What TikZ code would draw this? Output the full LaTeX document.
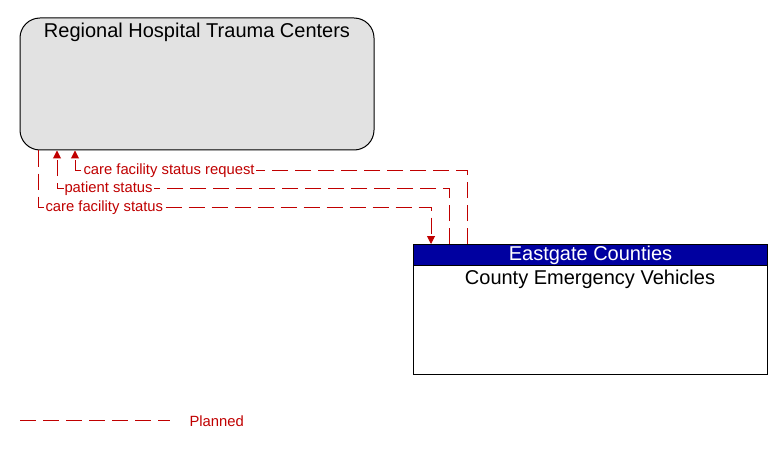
\documentclass[tikz,border=0pt]{standalone}
\usepackage{fontspec}
\setmainfont{Liberation Sans}
\usetikzlibrary{arrows.meta}
\definecolor{flowred}{RGB}{192,0,0}
\definecolor{headblue}{RGB}{0,0,160}
\definecolor{boxgray}{RGB}{226,226,226}

\begin{document}
\begin{tikzpicture}[x=1pt,y=-1pt, line width=1pt,
  every node/.style={inner sep=0pt},
  bigtext/.style={font=\fontsize{20}{22}\selectfont},
  flowtext/.style={font=\fontsize{14.8}{17}\selectfont, text=flowred, fill=white, inner xsep=1pt, inner ysep=1pt, anchor=west},
  planned/.style={draw=flowred, dash pattern=on 16pt off 7pt},
  flow/.style={planned, -{Triangle[length=8pt,width=8pt]}}]
   \useasboundingbox (0,0) rectangle (783,449);
   % elements
   \node (rhtc) [draw, fill=boxgray, rounded corners=20pt, minimum width=354pt, minimum height=132pt] at (197,84) {};
   \node (rhtcname) [bigtext] at (197,32.5) {Regional Hospital Trauma Centers};
   \node (cev) [draw, fill=white, minimum width=354pt, minimum height=130pt, anchor=north west] at (413,244) {};
   \node (cevhead) [draw, fill=headblue, text=white, bigtext, minimum width=354pt, minimum height=21pt, anchor=north west] at (413,244) {Eastgate Counties};
   \node (cevname) [bigtext] at (590,279.5) {County Emergency Vehicles};
   % flows
   \coordinate (cfs1) at (38,207);
   \coordinate (cfs2) at (431,207);
   \coordinate (ps1) at (57,188);
   \coordinate (ps2) at (449,188);
   \coordinate (cfsr1) at (75,170);
   \coordinate (cfsr2) at (467,170);
   \draw[flow] (rhtc.south -| cfs1) -- (cfs1) -- (cfs2) -- (cev.north -| cfs2);
   \draw[flow] (cev.north -| ps2) -- (ps2) -- (ps1) -- (rhtc.south -| ps1);
   \draw[flow] (cev.north -| cfsr2) -- (cfsr2) -- (cfsr1) -- (rhtc.south -| cfsr1);
   \node (cfslabel) [flowtext] at (44,208) {care facility status};
   \node (pslabel) [flowtext] at (63,189) {patient status};
   \node (cfsrlabel) [flowtext] at (82,171) {care facility status request};
   % legend
   \coordinate (legstart) at (20,420);
   \coordinate (legend) at (170,420);
   \draw[planned] (legstart) -- (legend);
   \node (legtext) [flowtext, fill=none] at (188,421) {Planned};
\end{tikzpicture}
\end{document}
